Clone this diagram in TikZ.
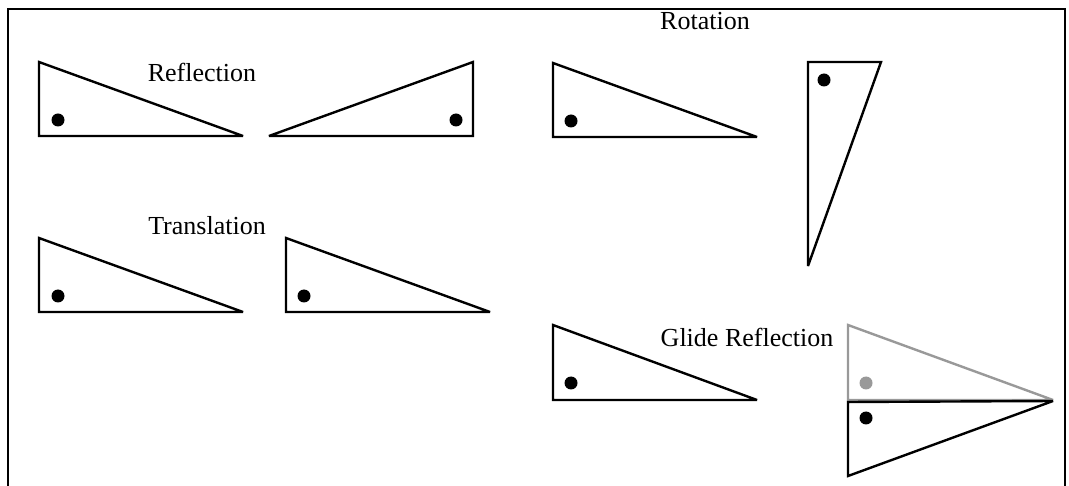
\documentclass[tikz,border=0pt]{standalone}
\usepackage{fontspec}
\setmainfont{Liberation Serif}
\begin{document}
\begin{tikzpicture}[x=1pt,y=-1pt,
  tri/.style={draw=black,line width=2.4pt,line join=miter,miter limit=2},
  gtri/.style={draw=gray!80,line width=2.4pt,line join=miter,miter limit=2},
  dotb/.style={fill=black},
  dotg/.style={fill=gray!80},
  lbl/.style={font=\fontsize{26}{30}\selectfont,inner sep=0pt}]
\useasboundingbox (0,0) rectangle (1069,486);
\fill[white] (0,0) rectangle (1069,486);
% frame
\draw[line width=2.5pt] (8,486) -- (8,9) -- (1065,9) -- (1065,486);
% Reflection
\draw[tri] (39,62) -- (39,136) -- (243,136) -- cycle;
\fill[dotb] (58,120) circle (6.5);
\draw[tri] (473,62) -- (473,136) -- (269,136) -- cycle;
\fill[dotb] (456,120) circle (6.5);
\node[lbl] (refl) at (202,72) {Reflection};
% Rotation
\node[lbl] (rot) at (705,21) {Rotation};
\draw[tri] (553,63) -- (553,137) -- (757,137) -- cycle;
\fill[dotb] (571,121) circle (6.5);
\draw[tri] (808,62) -- (881,62) -- (808,266) -- cycle;
\fill[dotb] (824,80) circle (6.5);
% Translation
\node[lbl] (trans) at (207,226) {Translation};
\draw[tri] (39,238) -- (39,312) -- (243,312) -- cycle;
\fill[dotb] (58,296) circle (6.5);
\draw[tri] (286,238) -- (286,312) -- (490,312) -- cycle;
\fill[dotb] (304,296) circle (6.5);
% Glide reflection
\node[lbl] (glide) at (747,337) {Glide Reflection};
\draw[tri] (553,325) -- (553,400) -- (757,400) -- cycle;
\fill[dotb] (571,383) circle (6.5);
\draw[gtri] (848,325) -- (848,400) -- (1053,400) -- cycle;
\fill[dotg] (866,383) circle (6.5);
\draw[tri] (848,402) -- (848,476) -- (1053,401) -- cycle;
\fill[dotb] (866,418) circle (6.5);
\end{tikzpicture}
\end{document}
